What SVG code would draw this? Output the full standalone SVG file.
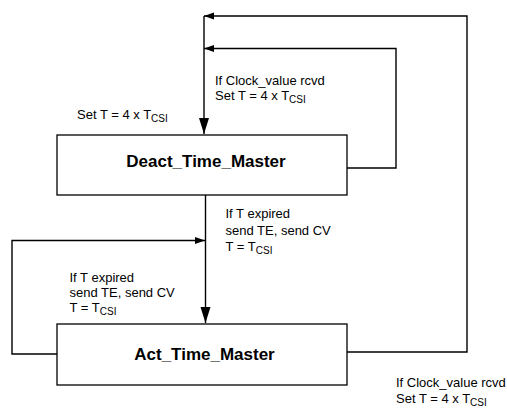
<svg xmlns="http://www.w3.org/2000/svg" width="507" height="408" viewBox="0 0 507 408">
<defs>
<style>
.box{fill:#fff;stroke:#000;stroke-width:1.3}
.ln{fill:none;stroke:#000;stroke-width:1.4}
.t{font-family:"Liberation Sans",Arial,sans-serif;font-size:13px;fill:#000}
.s{font-size:10px}
.b{font-family:"Liberation Sans",Arial,sans-serif;font-size:17px;font-weight:bold;fill:#000;text-anchor:middle}
</style>
<marker id="ah" markerUnits="userSpaceOnUse" markerWidth="11" markerHeight="8" refX="10" refY="3.5" orient="auto"><path d="M0,0 L10,3.5 L0,7 Z" fill="#000"/></marker>
<marker id="ab" markerUnits="userSpaceOnUse" markerWidth="17" markerHeight="11" refX="16" refY="5" orient="auto"><path d="M0,0 L16,5 L0,10 Z" fill="#000"/></marker>
</defs>
<g id="connectors">
<path class="ln" d="M347,352 H467 V16 H204" marker-end="url(#ah)"/>
<path class="ln" d="M347,168 H396 V48.5 H204" marker-end="url(#ah)"/>
<path class="ln" d="M204,16 V134" marker-end="url(#ab)"/>
<path class="ln" d="M205.5,195 V323" marker-end="url(#ab)"/>
<path class="ln" d="M57,354 H12 V240.5 H205" marker-end="url(#ah)"/>
</g>
<g id="labels">
<text class="t" x="77" y="119">Set T = 4 x T<tspan class="s" dy="3">CSI</tspan></text>
<text class="t" x="215" y="85">If Clock_value rcvd</text>
<text class="t" x="215" y="100">Set T = 4 x T<tspan class="s" dy="3">CSI</tspan></text>
<text class="t" x="225.5" y="218">If T expired</text>
<text class="t" x="225.5" y="235">send TE, send CV</text>
<text class="t" x="225.5" y="251">T = T<tspan class="s" dy="3">CSI</tspan></text>
<text class="t" x="69.5" y="282">If T expired</text>
<text class="t" x="69.5" y="297">send TE, send CV</text>
<text class="t" x="69.5" y="312">T = T<tspan class="s" dy="3">CSI</tspan></text>
<text class="t" x="396" y="387">If Clock_value rcvd</text>
<text class="t" x="396" y="403">Set T = 4 x T<tspan class="s" dy="3">CSI</tspan></text>
</g>
<g id="deact">
<rect class="box" x="57" y="135" width="290" height="60"/>
<text class="b" x="206" y="167">Deact_Time_Master</text>
</g>
<g id="act">
<rect class="box" x="57" y="324" width="290" height="61"/>
<text class="b" x="204.5" y="360">Act_Time_Master</text>
</g>
</svg>
